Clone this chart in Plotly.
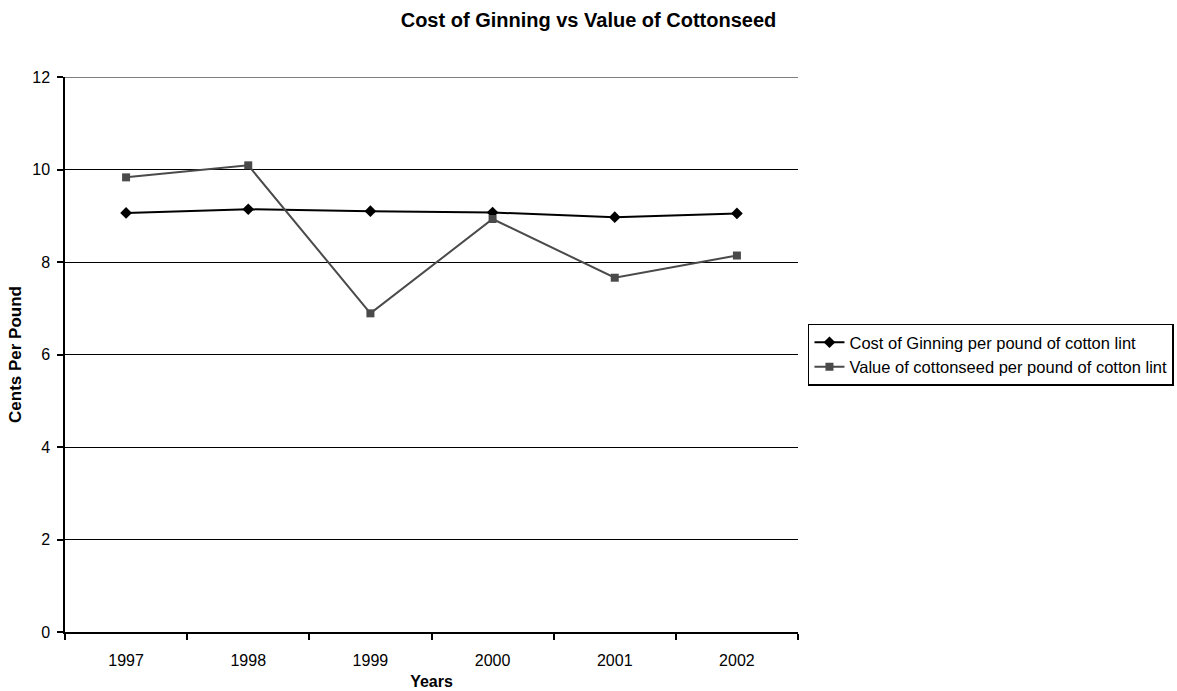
import plotly.graph_objects as go

years = ["1997", "1998", "1999", "2000", "2001", "2002"]
ginning_cost = [9.06, 9.14, 9.10, 9.07, 8.97, 9.05]
cottonseed_value = [9.83, 10.09, 6.89, 8.93, 7.66, 8.14]
y_ticks = [0, 2, 4, 6, 8, 10, 12]

x_pos = list(range(len(years)))
font = "Arial, Liberation Sans, sans-serif"

fig = go.Figure()
fig.add_trace(go.Scatter(
    x=x_pos, y=ginning_cost, mode="lines+markers",
    name="Cost of Ginning per pound of cotton lint",
    line=dict(color="#000000", width=2),
    marker=dict(symbol="diamond", size=9, color="#000000"),
))
fig.add_trace(go.Scatter(
    x=x_pos, y=cottonseed_value, mode="lines+markers",
    name="Value of cottonseed per pound of cotton lint",
    line=dict(color="#4a4a4a", width=2),
    marker=dict(symbol="square", size=8, color="#4a4a4a"),
))

# top border line at the maximum of the value axis
fig.add_shape(type="line", xref="paper", x0=0, x1=1, yref="y", y0=12, y1=12,
              line=dict(color="#000000", width=1.2), layer="below")

fig.update_layout(
    width=1177, height=691,
    paper_bgcolor="white", plot_bgcolor="white",
    margin=dict(l=65, r=379, t=77, b=59, autoexpand=False),
    font=dict(family=font, size=16, color="#000000"),
    title=dict(text="<b>Cost of Ginning vs Value of Cottonseed</b>",
               x=0.5, xanchor="center", y=0.971, yanchor="middle",
               font=dict(size=20, family=font)),
    showlegend=True,
    legend=dict(x=1.0136, xanchor="left", y=0.5, yanchor="middle",
                borderwidth=1.5, bordercolor="#000000", bgcolor="white",
                font=dict(size=16.5, family=font),
                itemwidth=30, tracegroupgap=0),
)

fig.update_xaxes(
    range=[-0.5, len(years) - 0.5], automargin=True,
    tickmode="array", tickvals=x_pos, ticktext=years,
    ticks="outside", ticklen=13, tickcolor="rgba(0,0,0,0)",
    showgrid=False, zeroline=False,
    showline=True, linecolor="#000000", linewidth=1.5,
    tickfont=dict(size=16, family=font),
    minor=dict(ticks="outside", tick0=-0.5, dtick=1, ticklen=6,
               tickcolor="#000000", tickwidth=1.5, showgrid=False),
    title=dict(text="<b>Years</b>", font=dict(size=16, family=font), standoff=8),
)
fig.update_yaxes(
    range=[0, 12], tickmode="array", tickvals=y_ticks, automargin=True,
    ticks="outside", ticklen=6, tickcolor="#000000", tickwidth=1.5,
    ticklabelstandoff=4,
    showgrid=True, gridcolor="#000000", gridwidth=1.2,
    zeroline=False, showline=True, linecolor="#000000", linewidth=1.5,
    tickfont=dict(size=16, family=font),
    title=dict(text="<b>Cents Per Pound</b>", font=dict(size=17, family=font), standoff=6),
)

fig.write_html("out.html")
